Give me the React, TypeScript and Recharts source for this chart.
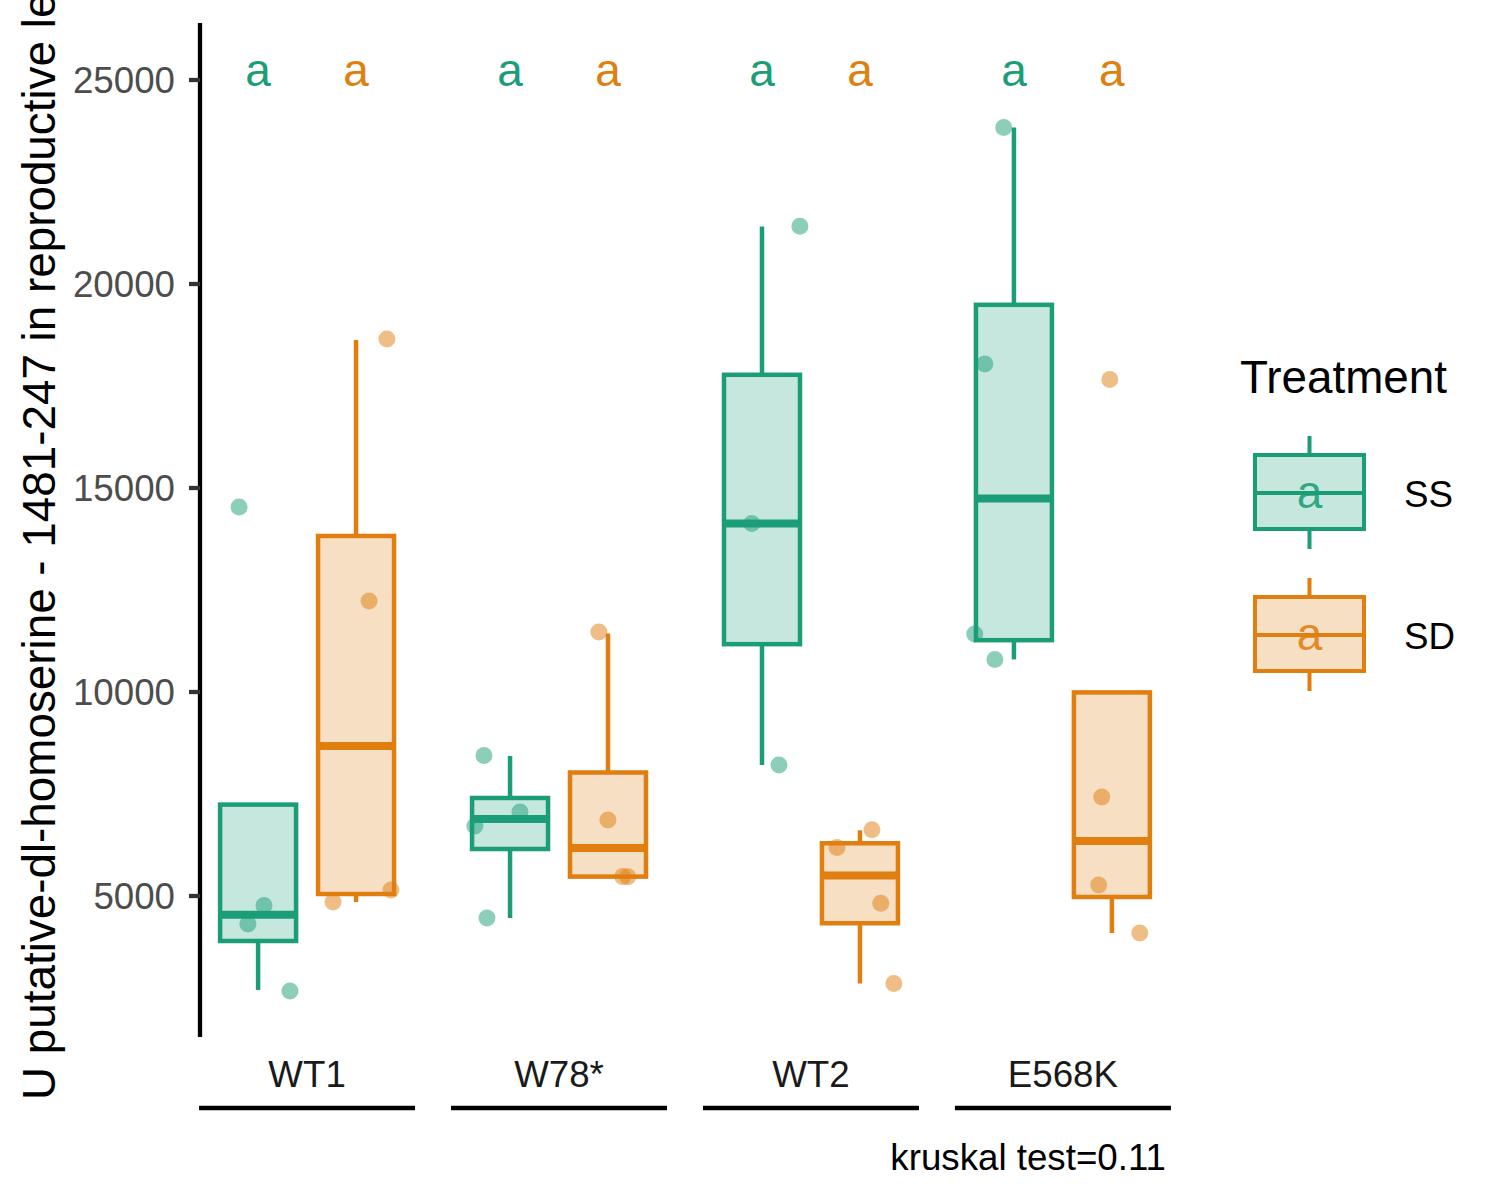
import React from "react";
import { Bar, ComposedChart, Legend, Scatter, XAxis, YAxis } from "recharts";

// Box plot of a metabolite per genotype, SS vs SD treatment, with jittered raw points.

const groups = ["WT1", "W78*", "WT2", "E568K"];
const groupPos = [1, 2, 3, 4];
const treatments = ["SS", "SD"];
const yTicks = [5000, 10000, 15000, 20000, 25000];

// box stats: whisker ends, hinges, median
const ssLower = [2696, 4461, 8211, 10799];
const ssQ1 = [3897, 6152, 11172, 11270];
const ssMedian = [4542, 6887, 14132, 14740];
const ssQ3 = [7240, 7402, 17775, 19490];
const ssUpper = [7240, 8431, 21410, 23836];

const sdLower = [4853, 5470, 2855, 4093];
const sdQ1 = [5049, 5475, 4332, 4976];
const sdMedian = [8676, 6176, 5500, 6348];
const sdQ3 = [13824, 8027, 6292, 9990];
const sdUpper = [18627, 11434, 6610, 9990];

// jittered raw observations (x in group units)
const ssPointPos = [0.73, 0.829, 0.765, 0.932, 1.702, 1.845, 1.666, 1.714, 2.956, 2.765, 2.873, 3.765, 3.69, 3.65, 3.73];
const ssPointVal = [14534, 4767, 4314, 2672, 8444, 7059, 6716, 4461, 21417, 14132, 8211, 23836, 18042, 11419, 10799];
const sdPointPos = [1.317, 1.246, 1.333, 1.103, 2.158, 2.194, 2.253, 2.273, 3.242, 3.103, 3.277, 3.329, 4.186, 4.154, 4.142, 4.305];
const sdPointVal = [18652, 12230, 5147, 4853, 11470, 6863, 5475, 5470, 6623, 6186, 4824, 2855, 17662, 7426, 5270, 4093];

// significance letters
const ssLetters = ["a", "a", "a", "a"];
const sdLetters = ["a", "a", "a", "a"];
const letterLevel = 25150;

const GREEN = "#1B9E77";
const ORANGE = "#E07E10";
const treatmentColors = [GREEN, ORANGE];
const FONT = "'Liberation Sans', Arial, Helvetica, sans-serif";
const DODGE = 0.1944; // half of (box + gap) in group units
const BOX_W = 76;
const LINE_W = 4.5;

const boxRows = groups.flatMap((g, i) => [
  {
    name: g,
    pos: groupPos[i] - DODGE,
    range: [ssQ1[i], ssQ3[i]],
    color: GREEN,
    stats: { lo: ssLower[i], q1: ssQ1[i], med: ssMedian[i], q3: ssQ3[i], hi: ssUpper[i] },
  },
  {
    name: g,
    pos: groupPos[i] + DODGE,
    range: [sdQ1[i], sdQ3[i]],
    color: ORANGE,
    stats: { lo: sdLower[i], q1: sdQ1[i], med: sdMedian[i], q3: sdQ3[i], hi: sdUpper[i] },
  },
]);

const ssPoints = ssPointPos.map((p, i) => ({ pos: p, val: ssPointVal[i] }));
const sdPoints = sdPointPos.map((p, i) => ({ pos: p, val: sdPointVal[i] }));

const letterRows = [
  ...ssLetters.map((l, i) => ({ pos: groupPos[i] - DODGE, val: letterLevel, label: l, color: GREEN })),
  ...sdLetters.map((l, i) => ({ pos: groupPos[i] + DODGE, val: letterLevel, label: l, color: ORANGE })),
];

function BoxShape(props: any) {
  const { x, y, width, height, payload } = props;
  const s = payload.stats;
  const color = payload.color;
  const top = Math.min(y, y + height);
  const h = Math.abs(height);
  const toY = (v: number) => top + ((s.q3 - v) / (s.q3 - s.q1)) * h;
  const cx = x + (width || 0) / 2;
  const left = cx - BOX_W / 2;
  return (
    <g>
      <line x1={cx} x2={cx} y1={toY(s.hi)} y2={top} stroke={color} strokeWidth={LINE_W} />
      <line x1={cx} x2={cx} y1={top + h} y2={toY(s.lo)} stroke={color} strokeWidth={LINE_W} />
      <rect x={left} y={top} width={BOX_W} height={h} fill={color} fillOpacity={0.25} stroke={color} strokeWidth={LINE_W} />
      <line x1={left} x2={left + BOX_W} y1={toY(s.med)} y2={toY(s.med)} stroke={color} strokeWidth={8} />
    </g>
  );
}

const dot = (color: string) => (props: any) => (
  <circle cx={props.cx} cy={props.cy} r={8.5} fill={color} fillOpacity={0.5} />
);

const letterShape = (props: any) => (
  <text x={props.cx} y={props.cy + 12} textAnchor="middle" fontSize={46} fontFamily={FONT} fill={props.payload.color}>
    {props.payload.label}
  </text>
);

function GroupTick(props: any) {
  const { x, y, payload } = props;
  const label = groups[groupPos.indexOf(payload.value)];
  return (
    <g>
      <text x={x} y={y + 50} textAnchor="middle" fontSize={36.7} fontFamily={FONT} fill="#1A1A1A">
        {label}
      </text>
      <line x1={x - 108} x2={x + 108} y1={y + 71} y2={y + 71} stroke="#000" strokeWidth={4.3} />
    </g>
  );
}

function YTitle({ viewBox }: any) {
  const tx = viewBox.x + 55;
  const ty = viewBox.y + viewBox.height + 63;
  return (
    <text x={tx} y={ty} transform={`rotate(-90 ${tx} ${ty})`} fontSize={45.8} fontFamily={FONT} fill="#000">
      U putative-dl-homoserine - 1481-247 in reproductive leaves
    </text>
  );
}

function Caption({ viewBox }: any) {
  return (
    <text x={viewBox.x + viewBox.width - 4} y={viewBox.y + 133} textAnchor="end" fontSize={36.7} fontFamily={FONT} fill="#000">
      kruskal test=0.11
    </text>
  );
}

function TreatmentLegend() {
  return (
    <svg width={290} height={360} style={{ display: "block" }}>
      <text x={30} y={53} fontSize={45.8} fontFamily={FONT} fill="#000">
        Treatment
      </text>
      {treatments.map((t, i) => {
        const top = 115 + i * 142;
        const c = treatmentColors[i];
        return (
          <g key={t}>
            <line x1={99.5} x2={99.5} y1={top - 19} y2={top} stroke={c} strokeWidth={4} />
            <line x1={99.5} x2={99.5} y1={top + 74} y2={top + 94} stroke={c} strokeWidth={4} />
            <rect x={45} y={top} width={109} height={74} fill={c} fillOpacity={0.25} stroke={c} strokeWidth={4} />
            <line x1={45} x2={154} y1={top + 38} y2={top + 38} stroke={c} strokeWidth={4} />
            <text x={99.5} y={top + 53} textAnchor="middle" fontSize={46} fontFamily={FONT} fill={c} fillOpacity={0.9}>
              a
            </text>
            <text x={194} y={top + 52} fontSize={36.7} fontFamily={FONT} fill="#000">
              {t}
            </text>
          </g>
        );
      })}
    </svg>
  );
}

export default function App() {
  return (
    <div style={{ position: "absolute", left: 0, top: 0, width: 1500, height: 1200, background: "#fff" }}>
      <ComposedChart width={1500} height={1200} data={boxRows} margin={{ top: 23, right: 40, bottom: 0, left: 0 }}>
        <XAxis
          type="number"
          dataKey="pos"
          domain={[0.575, 4.425]}
          ticks={groupPos}
          interval={0}
          allowDataOverflow
          height={163}
          axisLine={false}
          tickLine={false}
          tickSize={0}
          tickMargin={0}
          tick={<GroupTick />}
          label={{ content: Caption }}
        />
        <YAxis
          type="number"
          domain={[1544, 26397]}
          ticks={yTicks}
          allowDataOverflow
          width={200}
          tickSize={11}
          tickMargin={14}
          axisLine={{ stroke: "#000", strokeWidth: 4.3 }}
          tickLine={{ stroke: "#333", strokeWidth: 4.3 }}
          tick={{ fill: "#4D4D4D", fontSize: 36.7, fontFamily: FONT }}
          label={{ content: YTitle }}
        />
        <Legend
          layout="vertical"
          align="right"
          verticalAlign="middle"
          content={<TreatmentLegend />}
          wrapperStyle={{ left: 1210, top: 340, right: "auto", bottom: "auto", width: 290, height: 360 }}
        />
        <Bar dataKey="range" name="box" fill={GREEN} barSize={BOX_W} shape={BoxShape} isAnimationActive={false} />
        <Scatter data={ssPoints} dataKey="val" name="ss-pts" legendType="none" shape={dot(GREEN)} isAnimationActive={false} />
        <Scatter data={sdPoints} dataKey="val" name="sd-pts" legendType="none" shape={dot(ORANGE)} isAnimationActive={false} />
        <Scatter data={letterRows} dataKey="val" name="letters" legendType="none" shape={letterShape} isAnimationActive={false} />
      </ComposedChart>
    </div>
  );
}
